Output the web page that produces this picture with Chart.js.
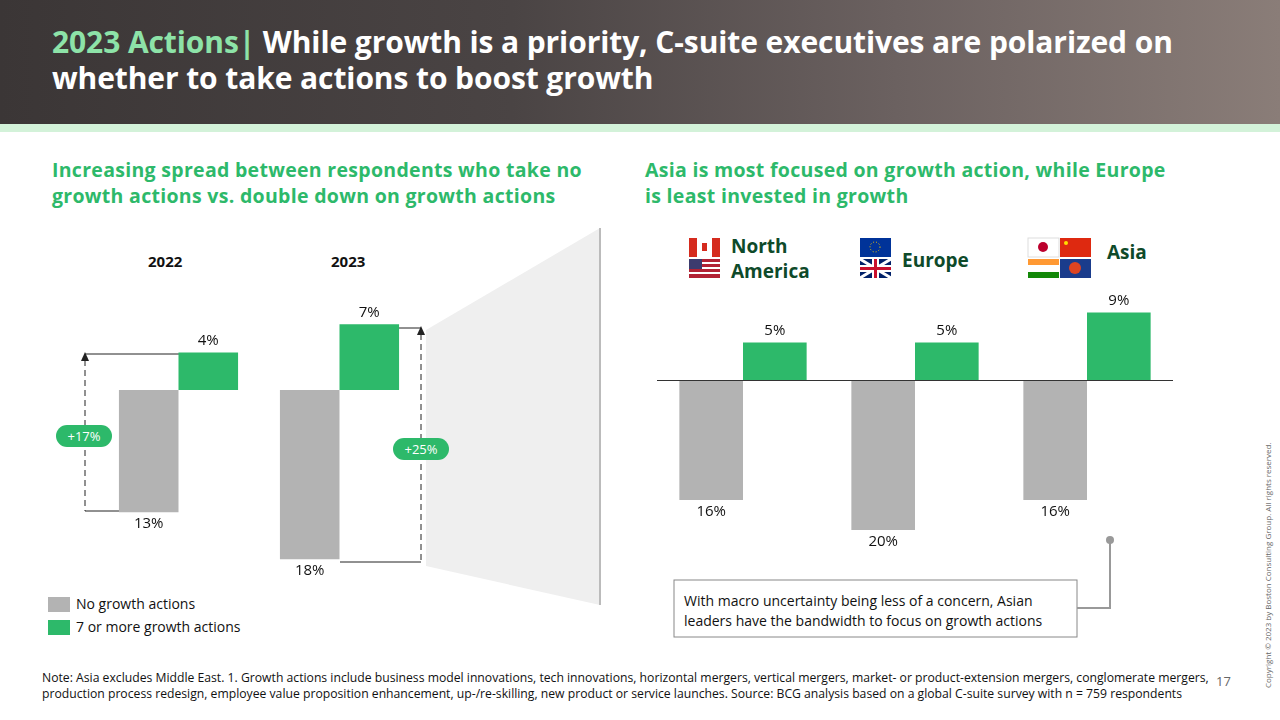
<!DOCTYPE html>
<html><head><meta charset="utf-8">
<script src="https://cdn.jsdelivr.net/npm/chart.js@4/dist/chart.umd.min.js"></script>
<style>
body{margin:0;width:1280px;height:720px;position:relative;overflow:hidden;font-family:"Open Sans",sans-serif;background:#fff;color:#111}
.abs{position:absolute}
#hdr{left:0;top:0;width:1280px;height:124px;background:linear-gradient(90deg,#3b3636 0%,#4a4444 40%,#6b6160 70%,#8a7d78 100%)}
#strip{left:0;top:124px;width:1280px;height:8px;background:#d3f2d9}
#title{left:52px;top:24px;color:#fff;font-weight:700;font-size:30px;line-height:36px;letter-spacing:-0.1px}
.sub{color:#2db96a;font-weight:700;font-size:19.5px;line-height:26px;letter-spacing:0.3px}
canvas{position:absolute}
</style></head><body>
<div id="hdr" class="abs"></div><div id="strip" class="abs"></div>
<div id="title" class="abs"><span style="color:#8de3a8">2023 Actions|</span> While growth is a priority, C-suite executives are polarized on<br>whether to take actions to boost growth</div>
<div class="abs sub" style="left:52px;top:157px">Increasing spread between respondents who take no<br>growth actions vs. double down on growth actions</div>
<div class="abs sub" style="left:645px;top:157px">Asia is most focused on growth action, while Europe<br>is least invested in growth</div>

<svg class="abs" style="left:0;top:0" width="1280" height="720">
<polygon points="426,330 600,228 600,605 426,566" fill="#efefef"/>
<line x1="600" y1="228" x2="600" y2="605" stroke="#bbb" stroke-width="2"/>
<line x1="85" y1="354" x2="179" y2="354" stroke="#222"/>
<line x1="85" y1="511" x2="119" y2="511" stroke="#222"/>
<line x1="85" y1="360" x2="85" y2="511" stroke="#222" stroke-dasharray="6,4"/>
<polygon points="85,352 81,361 89,361" fill="#222"/>
<line x1="399" y1="328" x2="421" y2="328" stroke="#222"/>
<line x1="340" y1="562" x2="421" y2="562" stroke="#222"/>
<line x1="421" y1="334" x2="421" y2="562" stroke="#222" stroke-dasharray="6,4"/>
<polygon points="421,326 417,335 425,335" fill="#222"/>
<rect x="56" y="425" width="56" height="22" rx="11" fill="#2db96a"/>
<text x="84" y="441" fill="#fff" font-size="13" text-anchor="middle" font-family="Open Sans">+17%</text>
<rect x="393" y="438" width="56" height="22" rx="11" fill="#2db96a"/>
<text x="421" y="454" fill="#fff" font-size="13" text-anchor="middle" font-family="Open Sans">+25%</text>
<rect x="674" y="580" width="403" height="57" fill="#fff" stroke="#888"/>
<polyline points="1077,608 1110,608 1110,542" fill="none" stroke="#999" stroke-width="2"/>
<circle cx="1110" cy="540" r="4" fill="#999"/>
<rect x="689" y="238" width="31" height="19" fill="#fff"/><rect x="689" y="238" width="8" height="19" fill="#d52b1e"/><rect x="712" y="238" width="8" height="19" fill="#d52b1e"/><rect x="702" y="243" width="5" height="8" fill="#d52b1e"/>
<rect x="689" y="259" width="31" height="19" fill="#b22234"/><rect x="689" y="262" width="31" height="2" fill="#fff"/><rect x="689" y="267" width="31" height="2" fill="#fff"/><rect x="689" y="272" width="31" height="2" fill="#fff"/><rect x="689" y="259" width="13" height="10" fill="#3c3b6e"/>
<rect x="860" y="238" width="31" height="19" fill="#003399"/><circle cx="875" cy="247" r="5" fill="none" stroke="#fc0" stroke-dasharray="1,2"/>
<rect x="860" y="259" width="31" height="19" fill="#012169"/><line x1="860" y1="259" x2="891" y2="278" stroke="#fff" stroke-width="3"/><line x1="891" y1="259" x2="860" y2="278" stroke="#fff" stroke-width="3"/><rect x="872" y="259" width="7" height="19" fill="#fff"/><rect x="860" y="265" width="31" height="7" fill="#fff"/><rect x="874" y="259" width="3" height="19" fill="#c8102e"/><rect x="860" y="267" width="31" height="3" fill="#c8102e"/>
<rect x="1028" y="238" width="31" height="19" fill="#fff" stroke="#ddd"/><circle cx="1043" cy="247" r="5" fill="#bc002d"/>
<rect x="1060" y="238" width="31" height="19" fill="#de2910"/><circle cx="1066" cy="243" r="2" fill="#ffde00"/>
<rect x="1028" y="259" width="31" height="6" fill="#f93"/><rect x="1028" y="265" width="31" height="7" fill="#fff"/><rect x="1028" y="272" width="31" height="6" fill="#138808"/>
<rect x="1060" y="259" width="31" height="19" fill="#1a3c8c"/><circle cx="1075" cy="268" r="6" fill="#d42"/>
</svg>
<div class="abs" style="left:148px;top:251px;font-weight:700;font-size:15px">2022</div>
<div class="abs" style="left:331px;top:251px;font-weight:700;font-size:15px">2023</div>
<div class="abs" style="left:731px;top:234px;font-weight:700;font-size:19px;color:#0e4a2a;line-height:25px">North<br>America</div>
<div class="abs" style="left:902px;top:247px;font-weight:700;font-size:19px;color:#0e4a2a">Europe</div>
<div class="abs" style="left:1107px;top:239px;font-weight:700;font-size:19px;color:#0e4a2a">Asia</div>
<div class="abs" style="left:684px;top:591px;font-size:14px;line-height:20px">With macro uncertainty being less of a concern, Asian<br>leaders have the bandwidth to focus on growth actions</div>
<div class="abs" style="left:48px;top:597px;width:22px;height:15px;background:#b3b3b3"></div>
<div class="abs" style="left:76px;top:594px;font-size:14px">No growth actions</div>
<div class="abs" style="left:48px;top:620px;width:22px;height:15px;background:#2db96a"></div>
<div class="abs" style="left:76px;top:617px;font-size:14px">7 or more growth actions</div>
<div class="abs" style="left:42px;top:670px;font-size:12.2px;line-height:16px;width:1180px">Note: Asia excludes Middle East. 1. Growth actions include business model innovations, tech innovations, horizontal mergers, vertical mergers, market- or product-extension mergers, conglomerate mergers,<br>production process redesign, employee value proposition enhancement, up-/re-skilling, new product or service launches. Source: BCG analysis based on a global C-suite survey with n = 759 respondents</div>
<div class="abs" style="left:1216px;top:672px;font-size:13px;color:#666">17</div>
<div class="abs" style="left:1262px;top:688px;transform:rotate(-90deg);transform-origin:0 0;font-size:8px;color:#666;white-space:nowrap">Copyright © 2023 by Boston Consulting Group. All rights reserved.</div>

<canvas id="c1" style="left:98px;top:296px" width="322" height="282"></canvas>
<canvas id="c2" style="left:657px;top:275px" width="516" height="300"></canvas>
<script>
const leftYears=["2022","2023"];
const leftNone=[-13,-18];
const leftSeven=[4,7];
const regions=["North America","Europe","Asia"];
const regNone=[-16,-20,-16];
const regSeven=[5,5,9];
const GRAY="#b3b3b3",GREEN="#2db96a";
const labelPlugin={id:"vl",afterDatasetsDraw(ch,a,opts){const c=ch.ctx;c.save();c.font="15px 'Open Sans'";c.fillStyle="#111";c.textAlign="center";
 ch.data.datasets.forEach((ds,i)=>{ch.getDatasetMeta(i).data.forEach((b,j)=>{const v=ds.data[j];
  if(v>=0){c.textBaseline="bottom";c.fillText(Math.abs(v)+"%",b.x,b.y-4);}else{c.textBaseline="top";c.fillText(Math.abs(v)+"%",b.x,b.y+4);}});});
 if(opts.zero){const y=ch.scales.y.getPixelForValue(0);c.strokeStyle="#333";c.lineWidth=1;c.beginPath();c.moveTo(ch.chartArea.left,y+0.5);c.lineTo(ch.chartArea.right,y+0.5);c.stroke();}
 c.restore();}};
function mk(id,labels,neg,pos,min,max,zero){
 new Chart(document.getElementById(id),{type:"bar",data:{labels,datasets:[
  {data:neg,backgroundColor:GRAY,categoryPercentage:0.74,barPercentage:1},
  {data:pos,backgroundColor:GREEN,categoryPercentage:0.74,barPercentage:1}]},
 options:{responsive:false,animation:false,layout:{padding:0},plugins:{legend:{display:false},tooltip:{enabled:false},vl:{zero}},
  scales:{x:{display:false},y:{display:false,min,max}}},plugins:[labelPlugin]});}
mk("c1",leftYears,leftNone,leftSeven,-20,10,false);
mk("c2",regions,regNone,regSeven,-26,14,true);
</script>
</body></html>
